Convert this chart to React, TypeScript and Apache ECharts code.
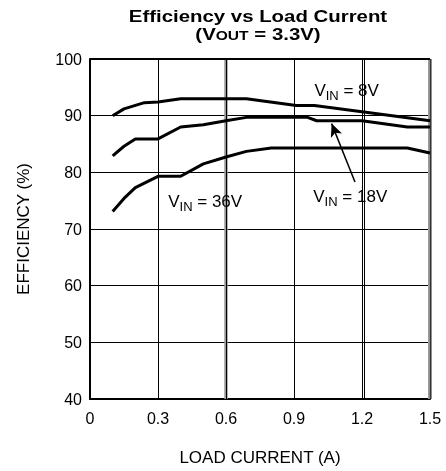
import React, { useEffect, useRef } from "react";
import * as echarts from "echarts";

// ---- data ----
const vin8Current = [0.1, 0.15, 0.24, 0.3, 0.4, 0.5, 0.69, 0.91, 0.99, 1.2, 1.5];
const vin8Eff = [90, 91.2, 92.3, 92.4, 93, 93, 93, 91.8, 91.8, 90.7, 89.1];

const vin18Current = [0.1, 0.15, 0.2, 0.3, 0.4, 0.5, 0.6, 0.69, 0.96, 1.0, 1.2, 1.4, 1.5];
const vin18Eff = [82.9, 84.6, 85.9, 85.9, 88, 88.4, 89.1, 89.7, 89.7, 89.1, 89.1, 88, 88];

const vin36Current = [0.1, 0.15, 0.2, 0.3, 0.4, 0.5, 0.6, 0.69, 0.8, 1.4, 1.5];
const vin36Eff = [73.1, 75.4, 77.3, 79.3, 79.3, 81.5, 82.7, 83.7, 84.3, 84.3, 83.4];

const xTickLabels = ["0", "0.3", "0.6", "0.9", "1.2", "1.5"];
const yTickLabels = ["40", "50", "60", "70", "80", "90", "100"];

// curve labels (VIN values) and their anchor positions in data units
const labelVin = ["8V", "18V", "36V"];
const labelCurrent = [0.99, 0.985, 0.345];
const labelEff = [94.4, 75.7, 74.8];

// arrow pointing at the 18V curve
const arrowFrom = [1.169, 78.3];
const arrowTo = [1.066, 88.6];

const FONT = "'Liberation Sans', Arial, Helvetica, sans-serif";

const zip = (xs: number[], ys: number[]) => xs.map((x, i) => [x, ys[i]]);

export default function App() {
  const ref = useRef<HTMLDivElement>(null);

  useEffect(() => {
    if (!ref.current) return;
    const chart = echarts.init(ref.current, null, { renderer: "svg" });

    const curve = (name: string, data: number[][]) => ({
      name,
      type: "line",
      data,
      showSymbol: false,
      symbol: "none",
      z: 5,
      lineStyle: { color: "#000", width: 3 },
      silent: true,
    });

    const xMin = Number(xTickLabels[0]);
    const xMax = Number(xTickLabels[xTickLabels.length - 1]);
    const xStep = Number(xTickLabels[1]) - xMin;
    const yMin = Number(yTickLabels[0]);
    const yMax = Number(yTickLabels[yTickLabels.length - 1]);
    const yStep = Number(yTickLabels[1]) - yMin;

    chart.setOption({
      animation: false,
      textStyle: { fontFamily: FONT },
      grid: { left: 90, right: 16, top: 59, bottom: 72, containLabel: false },
      xAxis: {
        type: "value",
        min: xMin,
        max: xMax,
        interval: xStep,
        name: "LOAD CURRENT (A)",
        nameLocation: "middle",
        nameGap: 50,
        nameTextStyle: { fontSize: 17, color: "#000", fontFamily: FONT },
        axisLine: { show: true, onZero: false, lineStyle: { color: "#000", width: 2 } },
        axisTick: { show: false },
        axisLabel: {
          fontSize: 16,
          color: "#000",
          margin: 11,
          fontFamily: FONT,
          formatter: (v: number) => {
            const i = Math.round((v - xMin) / xStep);
            return xTickLabels[i] ?? "";
          },
        },
        splitLine: { show: true, lineStyle: { color: "#000", width: 1 } },
      },
      yAxis: {
        type: "value",
        min: yMin,
        max: yMax,
        interval: yStep,
        name: "EFFICIENCY (%)",
        nameLocation: "middle",
        nameGap: 58,
        nameTextStyle: { fontSize: 17, color: "#000", fontFamily: FONT },
        axisLine: { show: true, lineStyle: { color: "#000", width: 2 } },
        axisTick: { show: false },
        axisLabel: {
          fontSize: 16,
          color: "#000",
          margin: 8,
          fontFamily: FONT,
          formatter: (v: number) => {
            const i = Math.round((v - yMin) / yStep);
            return yTickLabels[i] ?? "";
          },
        },
        splitLine: { show: true, lineStyle: { color: "#000", width: 1 } },
      },
      series: [
        {
          type: "line",
          data: [],
          z: 1,
          silent: true,
          markLine: {
            silent: true,
            symbol: "none",
            animation: false,
            label: { show: false },
            data: [
              { xAxis: 0.6, lineStyle: { color: "#9a9a9a", width: 3.5, type: "solid" } },
              { xAxis: 0.6, lineStyle: { color: "#000", width: 1, type: "solid" } },
              { xAxis: 1.209, lineStyle: { color: "#000", width: 1, type: "solid" } },
              { xAxis: 1.5, lineStyle: { color: "#9a9a9a", width: 4, type: "solid" } },
              { xAxis: 1.5, lineStyle: { color: "#333", width: 1.2, type: "solid" } },
              { yAxis: 100, lineStyle: { color: "#000", width: 2, type: "solid" } },
            ],
          },
        },
        curve("VIN = 8V", zip(vin8Current, vin8Eff)),
        {
          ...curve("VIN = 18V", zip(vin18Current, vin18Eff)),
          markLine: {
            silent: true,
            animation: false,
            symbol: ["none", "arrow"],
            symbolSize: [9, 13],
            label: { show: false },
            lineStyle: { color: "#000", width: 1.5, type: "solid" },
            data: [[{ coord: arrowFrom }, { coord: arrowTo }]],
          },
        },
        curve("VIN = 36V", zip(vin36Current, vin36Eff)),
      ],
    });

    const labelGraphics = labelVin.map((v, i) => {
      const p = chart.convertToPixel({ gridIndex: 0 }, [labelCurrent[i], labelEff[i]]) as number[];
      return {
        type: "text",
        x: p[0],
        y: p[1],
        z: 10,
        style: {
          text: `{m|V}{s|IN}{m| = ${v}}`,
          align: "left",
          verticalAlign: "middle",
          fill: "#000",
          fontFamily: FONT,
          fontSize: 17,
          rich: {
            m: { fontSize: 17, lineHeight: 22, verticalAlign: "middle", fontFamily: FONT, fill: "#000" },
            s: { fontSize: 13, lineHeight: 14, verticalAlign: "bottom", fontFamily: FONT, fill: "#000" },
          },
        },
      };
    });

    const gridCenterX = (() => {
      const a = chart.convertToPixel({ gridIndex: 0 }, [xMin, yMin]) as number[];
      const b = chart.convertToPixel({ gridIndex: 0 }, [xMax, yMin]) as number[];
      return (a[0] + b[0]) / 2;
    })();

    chart.setOption({
      graphic: [
        {
          type: "text",
          x: gridCenterX - 2,
          y: 16,
          scaleX: 1.2,
          style: {
            text: "Efficiency vs Load Current",
            align: "center",
            verticalAlign: "middle",
            fontFamily: FONT,
            fontSize: 17,
            fontWeight: "bold",
            fill: "#000",
          },
        },
        {
          type: "text",
          x: gridCenterX - 2,
          y: 34,
          scaleX: 1.2,
          style: {
            text: "{m|(V}{s|OUT}{m| = 3.3V)}",
            align: "center",
            verticalAlign: "middle",
            fontFamily: FONT,
            fontSize: 17,
            fontWeight: "bold",
            fill: "#000",
            rich: {
              m: { fontSize: 17, fontWeight: "bold", lineHeight: 16, verticalAlign: "middle", fontFamily: FONT, fill: "#000" },
              s: { fontSize: 13, fontWeight: "bold", lineHeight: 11, verticalAlign: "bottom", fontFamily: FONT, fill: "#000" },
            },
          },
        },
        ...labelGraphics,
      ],
    });

    return () => chart.dispose();
  }, []);

  return (
    <div
      ref={ref}
      style={{ position: "fixed", left: 0, top: 0, width: 446, height: 471 }}
    />
  );
}
